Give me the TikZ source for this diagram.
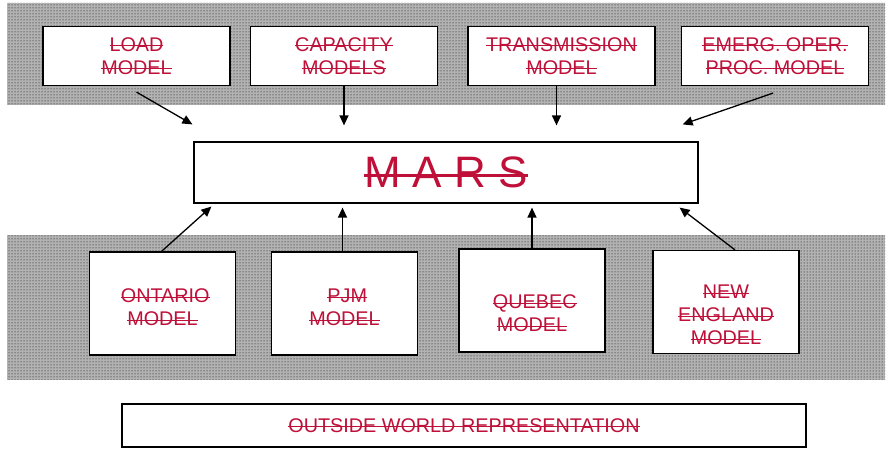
\documentclass[tikz,border=0pt]{standalone}
\usepackage{fontspec}
\setmainfont{Liberation Sans}
\usetikzlibrary{patterns,arrows.meta}
\definecolor{marsred}{RGB}{190,16,56}
\newsavebox{\strikebox}
\newcommand{\strike}[2][1.4pt]{\sbox{\strikebox}{#2}\rlap{\rule[0.25em]{\wd\strikebox}{#1}}\usebox{\strikebox}}
\tikzstyle{band} = [fill=black!30,postaction={pattern=dots,pattern color=black}]
\tikzstyle{mbox} = [draw,line width=1.2pt,fill=white,inner sep=0pt,align=center,
    text=marsred,font=\fontsize{19.8}{23}\selectfont]
\tikzstyle{topbox} = [mbox,minimum width=187pt,minimum height=59pt]
\tikzstyle{subbox} = [mbox,minimum width=146pt,minimum height=103pt]
\tikzstyle{feed} = [line width=1.3pt,-{Triangle[length=10pt,width=9pt]}]
\newcommand{\striketext}[2]{
    \strike{#1}\\
    \strike{#2}
}
\newcommand{\lowstrut}[1]{\rule{0pt}{#1}}

\begin{document}
\begin{tikzpicture}[x=1pt,y=1pt]
    \useasboundingbox (0,0) rectangle (887,449);
    \fill[band] (7,344) rectangle (885,446);
    \fill[band] (7,69) rectangle (885,214);

	\node(load) at (136.5,393) [topbox] {\striketext{LOAD}{MODEL}};
	\node(capacity) at (344,393) [topbox] {\striketext{CAPACITY}{MODELS}};
	\node(transmission) at (561.5,393) [topbox] {\striketext{TRANSMISSION}{MODEL}};
	\node(emerg) at (775,393) [topbox] {\striketext{EMERG. OPER.}{PROC. MODEL}};

	\node(mars) at (446,276.5) [mbox,minimum width=504pt,minimum height=61pt,
	    font=\fontsize{44}{50}\selectfont] {\strike[2.6pt]{M A R S}};

	\node(ontario) at (162.5,145.5) [subbox] {\lowstrut{22pt}\striketext{ONTARIO}{MODEL}};
	\node(pjm) at (344.5,145.5) [subbox] {\lowstrut{22pt}\striketext{PJM}{MODEL}};
	\node(quebec) at (532,148.5) [subbox] {\lowstrut{40pt}\striketext{QUEBEC}{MODEL}};
	\node(newengland) at (726,147) [subbox] {\lowstrut{40pt}\strike{NEW}\\\striketext{ENGLAND}{MODEL}};

	\node(outside) at (464,23.5) [mbox,minimum width=684pt,minimum height=43pt]
	    {\strike{OUTSIDE WORLD REPRESENTATION}};

	\draw[feed] ([yshift=-6pt]load.south) -- ([shift={(-1pt,17pt)}]mars.north west);
	\draw[feed,shorten >=16pt] (capacity.south) -- (capacity.south |- mars.north);
	\draw[feed,shorten >=16pt] ([xshift=-5pt]transmission.south) -- ([xshift=-5pt]transmission.south |- mars.north);
	\draw[feed] ([shift={(-2pt,-7pt)}]emerg.south) -- ([shift={(-16pt,17pt)}]mars.north east);

	\draw[feed] ([xshift=-1pt]ontario.north) -- ([shift={(18pt,-3pt)}]mars.south west);
	\draw[feed,shorten >=4pt] ([xshift=-2pt]pjm.north) -- ([xshift=-2pt]pjm.north |- mars.south);
	\draw[feed,shorten >=4pt] (quebec.north) -- (quebec.north |- mars.south);
	\draw[feed] ([xshift=9pt]newengland.north) -- ([shift={(-19pt,-4pt)}]mars.south east);
\end{tikzpicture}
\end{document}
